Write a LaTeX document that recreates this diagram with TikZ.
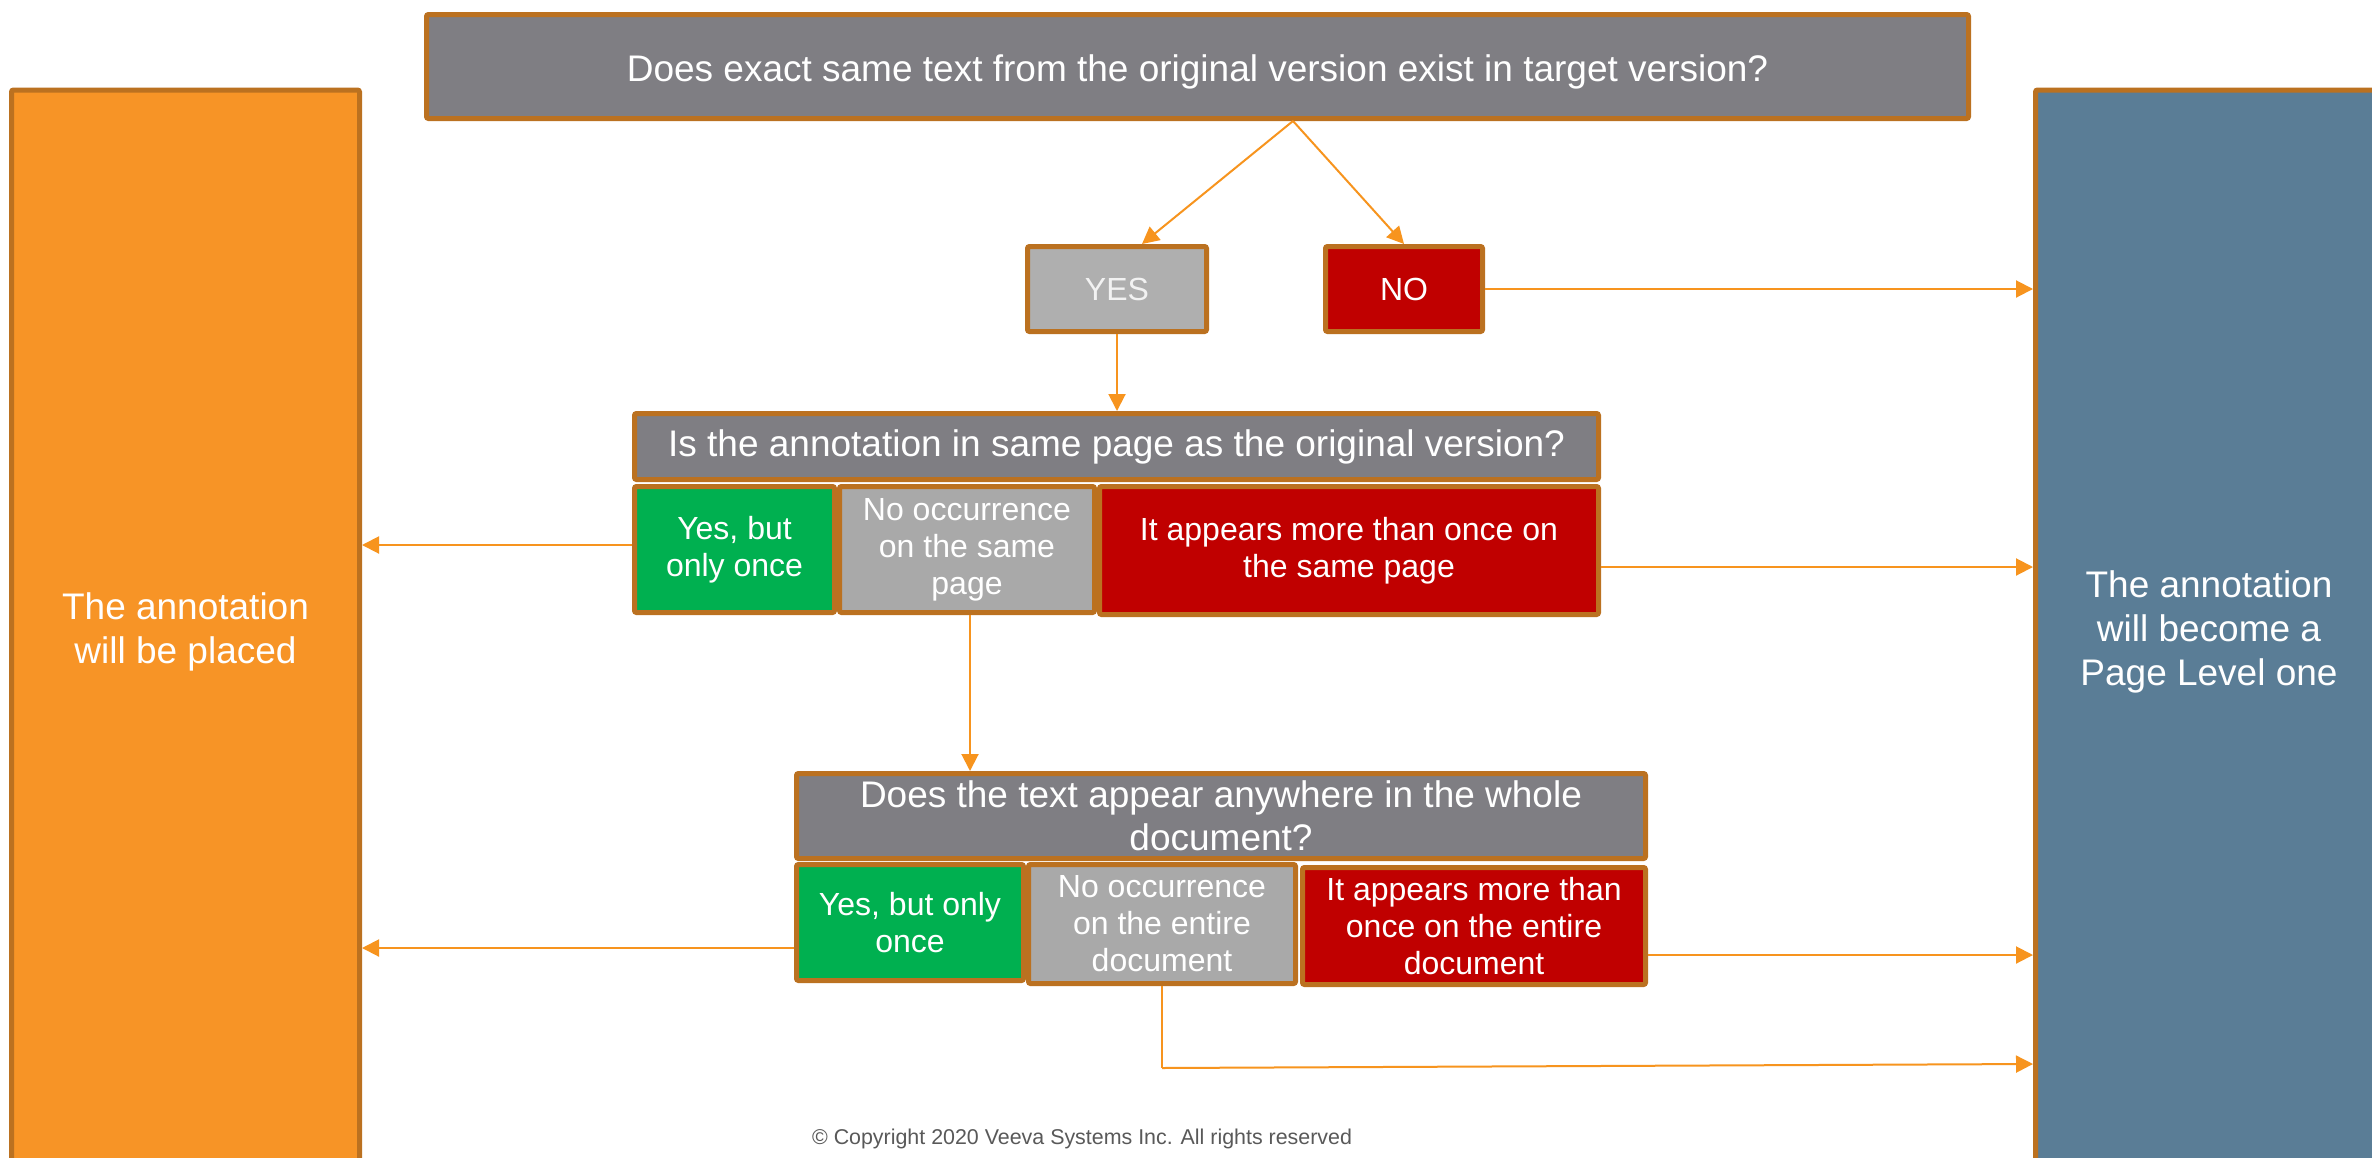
\documentclass[tikz,border=0pt]{standalone}
\usepackage{fontspec}
\setmainfont{Liberation Sans}
\usetikzlibrary{arrows.meta,calc}
\definecolor{bord}{RGB}{187,113,32}
\definecolor{hdrgray}{RGB}{127,126,131}
\definecolor{orfill}{RGB}{247,148,38}
\definecolor{bluefill}{RGB}{90,125,150}
\definecolor{redfill}{RGB}{192,0,0}
\definecolor{greenfill}{RGB}{0,176,80}
\definecolor{lgray}{RGB}{175,175,175}
\definecolor{mgray}{RGB}{169,169,169}
\definecolor{arrcol}{RGB}{247,148,30}
\definecolor{copycol}{RGB}{89,89,89}
\tikzset{
  box/.style={draw=bord, line width=2.5pt, rounded corners=1pt, rectangle,
    inner sep=0pt, align=center, text=white},
  sz/.style 2 args={minimum width=#1*0.5pt, minimum height=#2*0.5pt},
  bigtxt/.style={font=\fontsize{18.5pt}{21.5pt}\selectfont},
  smalltxt/.style={font=\fontsize{16pt}{18.5pt}\selectfont},
  arr/.style={draw=arrcol, line width=1pt, -{Triangle[length=8.5pt,width=8.5pt]}},
  ln/.style={draw=arrcol, line width=1pt}
}
\begin{document}
\begin{tikzpicture}[x=0.5pt,y=-0.5pt]
\useasboundingbox (0,0) rectangle (2372,1157);
\fill[white] (0,0) rectangle (2372,1157);
% side boxes
\node[box, fill=orfill, sz={348}{1084},
  font=\fontsize{18.5pt}{22pt}\selectfont] (left) at (185.5,632)
  {The annotation\\will be placed};
\node[box, fill=bluefill, sz={347}{1084},
  font=\fontsize{18.5pt}{22pt}\selectfont] (right) at (2209,632)
  {The annotation\\will become a\\Page Level one};
% top question
\node[box, bigtxt, fill=hdrgray, sz={1542}{104}] (top) at (1197.5,66.5)
  {\raisebox{-3pt}[13pt][4pt]{Does exact same text from the original version exist in target version?}};
\node[box, smalltxt, fill=lgray, sz={179}{85}, text=white!95!black] (yes) at (1117,289) {YES};
\node[box, smalltxt, fill=redfill, sz={157}{85}] (no) at (1404,289) {NO};
% second question
\node[box, bigtxt, fill=hdrgray, sz={964}{66}] (h2) at (1116.5,446.5)
  {Is the annotation in same page as the original version?};
\node[box, smalltxt, fill=greenfill, sz={200}{126}] (g2) at (734.5,549.5)
  {Yes, but\\only once};
\node[box, smalltxt, fill=mgray, sz={255}{126}] (gr2) at (967,549.5)
  {No occurrence\\on the same\\page};
\node[box, smalltxt, fill=redfill, sz={499}{128}] (r2) at (1349,550.5)
  {It appears more than once on\\the same page};
% third question
\node[box, bigtxt, fill=hdrgray, sz={849}{85}] (h3) at (1221,816)
  {Does the text appear anywhere in the whole\\document?};
\node[box, smalltxt, fill=greenfill, sz={227}{116}] (g3) at (910,922.5)
  {Yes, but only\\once};
\node[box, smalltxt, fill=mgray, sz={267}{119}] (gr3) at (1162,924)
  {No occurrence\\on the entire\\document};
\node[box, smalltxt, fill=redfill, sz={343}{117}] (r3) at (1474,926)
  {It appears more than\\once on the entire\\document};
% copyright
\node[font=\fontsize{10.7pt}{12pt}\selectfont, text=copycol, inner sep=0pt] (copy) at (1082,1139)
  {\textcopyright{} Copyright 2020 Veeva Systems Inc. All rights reserved};
% connectors
\coordinate (tsrc) at ($(top.south)+(95.5,0)$);
\draw[arr] (tsrc) -- ($(yes.north)+(25,0)$);
\draw[arr] (tsrc) -- (no.north);
\draw[arr] (no.east) -- (no.east -| right.west);
\draw[arr] (yes.south) -- (yes.south |- h2.north);
\coordinate (g2o) at ($(g2.west)+(0,-4.5)$);
\draw[arr] (g2o) -- (g2o -| left.east);
\coordinate (r2o) at ($(r2.east)+(0,16.5)$);
\draw[arr] (r2o) -- (r2o -| right.west);
\coordinate (gr2o) at ($(gr2.south)+(3,0)$);
\draw[arr] (gr2o) -- (gr2o |- h3.north);
\coordinate (g3o) at ($(g3.west)+(0,25.5)$);
\draw[arr] (g3o) -- (g3o -| left.east);
\coordinate (r3o) at ($(r3.east)+(0,29)$);
\draw[arr] (r3o) -- (r3o -| right.west);
\coordinate (gr3c) at ($(gr3.south)+(0,82)$);
\draw[ln] (gr3.south) -- (gr3c);
\draw[arr] (gr3c) -- ($(right.west |- gr3c)+(0,-4)$);
\end{tikzpicture}
\end{document}
